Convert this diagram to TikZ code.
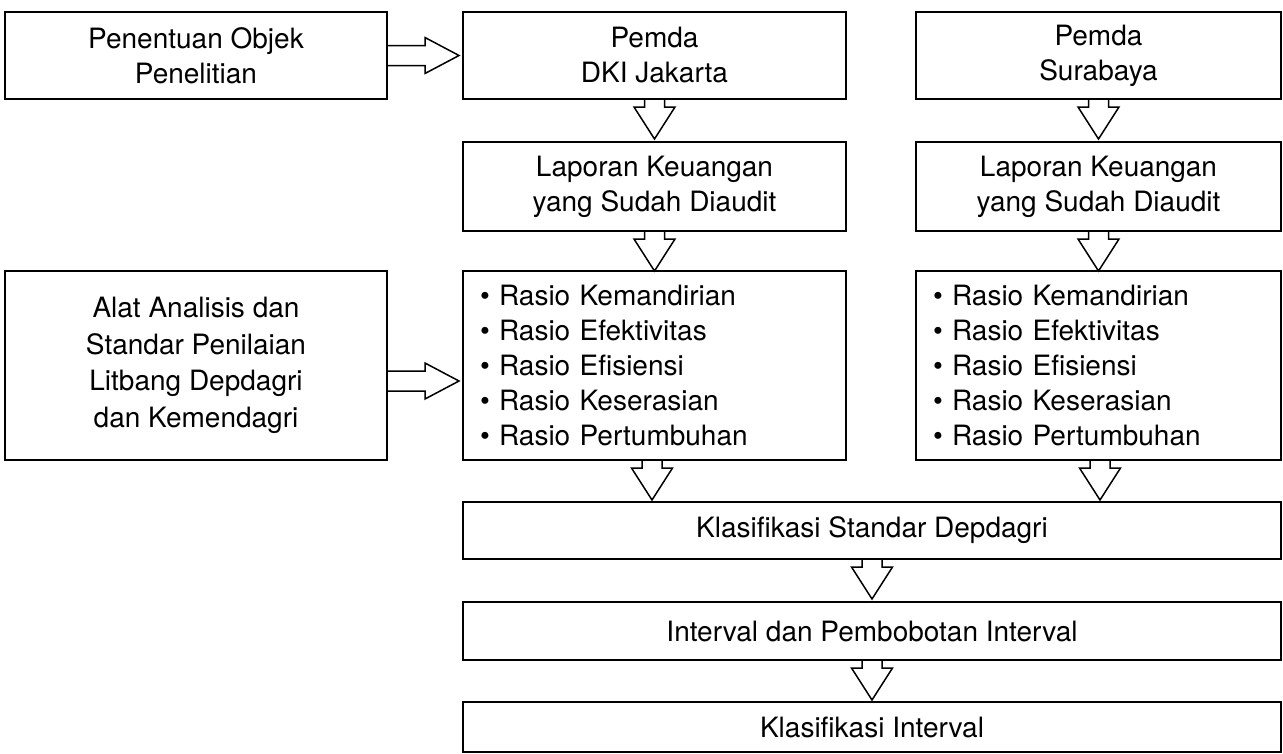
\documentclass[tikz,border=0pt]{standalone}
\usepackage{fontspec}
\setmainfont{TeX Gyre Heros}
\begin{document}
\begin{tikzpicture}[x=1pt,y=-1pt,
  box/.style={draw=black,line width=2pt,fill=white,inner sep=0pt,align=center,
    font=\fontsize{28}{35}\selectfont},
  listbox/.style={box,align=left,inner xsep=17pt,text width=349pt},
  barrow/.style={draw=black,line width=1.5pt,fill=white,line join=miter}]
\useasboundingbox (0,0) rectangle (1283,753);
% boxes
\node[box,minimum width=382pt,minimum height=87pt] (A) at (196,55.5) {Penentuan Objek\\Penelitian};
\node[box,minimum width=383pt,minimum height=87pt] (B) at (654.5,55.5) {Pemda\\DKI Jakarta};
\node[box,minimum width=365pt,minimum height=87pt] (C) at (1098.5,55.5) {Pemda\\Surabaya};
\node[box,minimum width=383pt,minimum height=89pt] (D) at (654.5,186.5) {Laporan Keuangan\\yang Sudah Diaudit};
\node[box,minimum width=365pt,minimum height=89pt] (E) at (1098.5,186.5) {Laporan Keuangan\\yang Sudah Diaudit};
\node[box,minimum width=382pt,minimum height=189pt,font=\fontsize{28}{36.5}\selectfont] (F) at (196,365.5) {Alat Analisis dan\\Standar Penilaian\\Litbang Depdagri\\dan Kemendagri};
\node[listbox,minimum width=383pt,minimum height=189pt] (G) at (654.5,365.5) {• Rasio Kemandirian\\• Rasio Efektivitas\\• Rasio Efisiensi\\• Rasio Keserasian\\• Rasio Pertumbuhan};
\node[listbox,text width=331pt,minimum width=365pt,minimum height=189pt] (H) at (1098.5,365.5) {• Rasio Kemandirian\\• Rasio Efektivitas\\• Rasio Efisiensi\\• Rasio Keserasian\\• Rasio Pertumbuhan};
\node[box,minimum width=818pt,minimum height=57pt] (I) at (872,530.5) {Klasifikasi Standar Depdagri};
\node[box,minimum width=818pt,minimum height=58pt] (J) at (872,631) {Interval dan Pembobotan Interval};
\node[box,minimum width=818pt,minimum height=50pt] (K) at (872,727) {Klasifikasi Interval};
% right block arrows
\draw[barrow] (A.east) ++(0,-10) -- ++(37,0) -- ++(0,-8) -- ++(34,18) -- ++(-34,18) -- ++(0,-8) -- ++(-37,0);
\coordinate (Fa) at ([yshift=-15.5pt]F.east);
\draw[barrow] (Fa) ++(0,-10) -- ++(37,0) -- ++(0,-8) -- ++(34,18) -- ++(-34,18) -- ++(0,-8) -- ++(-37,0);
% down block arrows
\foreach \s in {B,C,D,E,I,J}{
  \draw[barrow] (\s.south) ++(-10,0) -- ++(0,7) -- ++(-10.5,0) -- ++(20.5,32) -- ++(20.5,-32) -- ++(-10.5,0) -- ++(0,-7);
}
\coordinate (Gs) at ([xshift=-2.5pt]G.south);
\coordinate (Hs) at ([xshift=1.5pt]H.south);
\foreach \s in {Gs,Hs}{
  \draw[barrow] (\s) ++(-10,0) -- ++(0,7) -- ++(-10.5,0) -- ++(20.5,32) -- ++(20.5,-32) -- ++(-10.5,0) -- ++(0,-7);
}
\end{tikzpicture}
\end{document}
